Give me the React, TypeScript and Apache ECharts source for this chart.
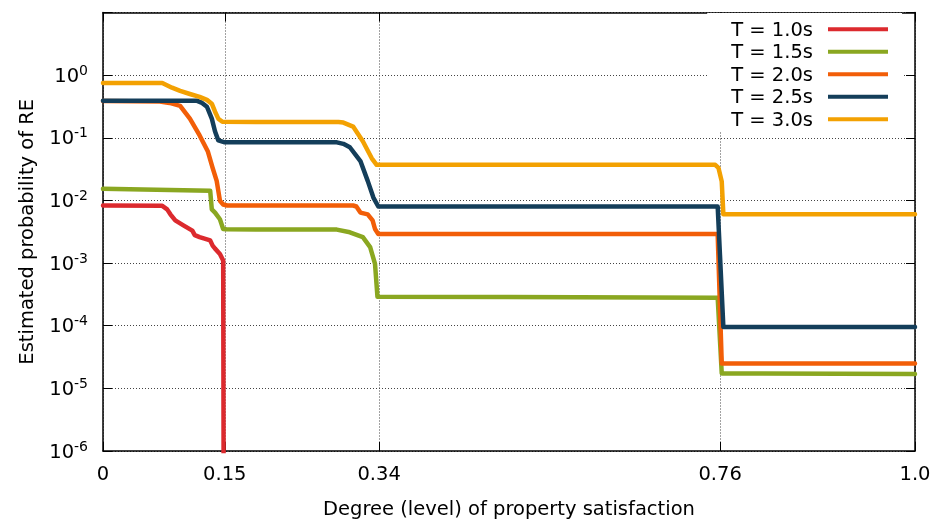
import React, { useEffect, useRef } from "react";
import * as echarts from "echarts";

const xTicks = [0, 0.15, 0.34, 0.76, 1.0];
const xTickLabels = ["0", "0.15", "0.34", "0.76", "1.0"];
const seriesNames = ["T = 1.0s", "T = 1.5s", "T = 2.0s", "T = 2.5s", "T = 3.0s"];
const seriesColors = ["#dc2a2e", "#8aa721", "#f25e08", "#143e5a", "#f3a102"];

const t10: [number, number][] = [
  [0, 0.0083], [0.073, 0.0082], [0.079, 0.0072], [0.083, 0.006], [0.089, 0.0048],
  [0.099, 0.004], [0.11, 0.0033], [0.113, 0.0028], [0.119, 0.0026], [0.132, 0.0023],
  [0.135, 0.0019], [0.138, 0.0017], [0.144, 0.0014], [0.148, 0.0011], [0.149, 1e-9],
];
const t15: [number, number][] = [
  [0, 0.0153], [0.132, 0.0143], [0.134, 0.0072], [0.138, 0.0064], [0.144, 0.005],
  [0.148, 0.0035], [0.152, 0.00346], [0.288, 0.00342], [0.304, 0.0031], [0.32, 0.0026],
  [0.329, 0.0018], [0.335, 0.00097], [0.338, 0.00029], [0.757, 0.00028], [0.762, 1.73e-5],
  [1.0, 1.7e-5],
];
const t20: [number, number][] = [
  [0, 0.385], [0.07, 0.38], [0.082, 0.36], [0.095, 0.324], [0.107, 0.202], [0.119, 0.109],
  [0.129, 0.061], [0.135, 0.033], [0.14, 0.0205], [0.144, 0.0099], [0.148, 0.0086],
  [0.153, 0.0083], [0.308, 0.0083], [0.312, 0.008], [0.317, 0.0064], [0.326, 0.006],
  [0.332, 0.0048], [0.335, 0.0035], [0.339, 0.0029], [0.757, 0.0029], [0.762, 2.5e-5],
  [1.0, 2.5e-5],
];
const t25: [number, number][] = [
  [0, 0.389], [0.116, 0.389], [0.122, 0.36], [0.128, 0.313], [0.134, 0.202],
  [0.138, 0.126], [0.142, 0.091], [0.15, 0.0846], [0.288, 0.0846], [0.296, 0.08],
  [0.304, 0.0706], [0.317, 0.0425], [0.326, 0.0205], [0.333, 0.0111], [0.339, 0.008],
  [0.757, 0.008], [0.764, 9.5e-5], [1.0, 9.5e-5],
];
const t30: [number, number][] = [
  [0, 0.75], [0.073, 0.75], [0.085, 0.63], [0.095, 0.56], [0.107, 0.5],
  [0.119, 0.45], [0.128, 0.403], [0.134, 0.35], [0.138, 0.261], [0.142, 0.202],
  [0.147, 0.18], [0.29, 0.178], [0.296, 0.175], [0.308, 0.151], [0.32, 0.088],
  [0.331, 0.047], [0.337, 0.037], [0.754, 0.037], [0.758, 0.033], [0.762, 0.02],
  [0.764, 0.006], [1.0, 0.006],
];
const seriesData = [t10, t15, t20, t25, t30];

const FONT = "DejaVu Sans";

export default function App() {
  const ref = useRef<HTMLDivElement>(null);
  useEffect(() => {
    if (!ref.current) return;
    const chart = echarts.init(ref.current, null, { renderer: "svg" });
    const tickStyle = { show: true, inside: true, length: 9, lineStyle: { color: "#000", width: 1 } };
    const axisLine = { show: true, onZero: false, lineStyle: { color: "#000", width: 1.5 } };
    const grid = { show: true, type: [1, 2], color: "#444", width: 1 };
    chart.setOption({
      animation: false,
      textStyle: { fontFamily: FONT },
      grid: { left: 103, right: 20, top: 12.5, bottom: 67, containLabel: false },
      legend: {
        orient: "vertical",
        right: 33,
        top: 13,
        align: "right",
        icon: "rect",
        itemWidth: 60,
        itemHeight: 4,
        itemGap: 0,
        backgroundColor: "#fff",
        padding: [5, 14, 1, 24],
        textStyle: { fontFamily: FONT, fontSize: 19.5, color: "#000", lineHeight: 22.5, padding: [0, 10, 0, 0] },
        data: seriesNames,
      },
      xAxis: [
        {
          type: "value",
          min: 0,
          max: 1,
          position: "bottom",
          axisLine,
          axisTick: { ...tickStyle, customValues: xTicks },
          axisLabel: {
            customValues: xTicks,
            fontSize: 19.5,
            color: "#000",
            margin: 12,
            formatter: (v: number) => {
              const i = xTicks.findIndex((t) => Math.abs(t - v) < 1e-9);
              return i >= 0 ? xTickLabels[i] : "";
            },
          },
          splitLine: { show: true, lineStyle: grid },
          name: "Degree (level) of property satisfaction",
          nameLocation: "middle",
          nameGap: 47,
          nameTextStyle: { fontSize: 19.5, color: "#000", fontFamily: FONT },
        },
        {
          type: "value",
          min: 0,
          max: 1,
          position: "top",
          axisLine,
          axisTick: { ...tickStyle, customValues: xTicks },
          axisLabel: { show: false },
          splitLine: { show: false },
        },
      ],
      yAxis: [
        {
          type: "log",
          logBase: 10,
          min: 1e-6,
          max: 10,
          position: "left",
          axisLine,
          axisTick: tickStyle,
          axisLabel: {
            margin: 15,
            color: "#000",
            formatter: (v: number) => {
              const e = Math.round(Math.log10(v));
              if (e > 0) return "";
              return `{b|10}{s|${e}}`;
            },
            rich: {
              b: { fontSize: 19.5, fontFamily: FONT, color: "#000" },
              s: { fontSize: 14, fontFamily: FONT, color: "#000", padding: [0, 0, 11, 0] },
            },
          },
          splitLine: { show: true, lineStyle: grid },
          name: "Estimated probability of RE",
          nameLocation: "middle",
          nameGap: 67,
          nameTextStyle: { fontSize: 19.5, color: "#000", fontFamily: FONT },
        },
        {
          type: "log",
          logBase: 10,
          min: 1e-6,
          max: 10,
          position: "right",
          axisLine,
          axisTick: tickStyle,
          axisLabel: { show: false },
          splitLine: { show: false },
        },
      ],
      series: seriesNames.map((name, i) => ({
        name,
        type: "line",
        data: seriesData[i],
        xAxisIndex: 0,
        yAxisIndex: 0,
        showSymbol: false,
        symbol: "none",
        clip: true,
        color: seriesColors[i],
        itemStyle: { color: seriesColors[i] },
        lineStyle: { width: 4.5, color: seriesColors[i], join: "round", cap: "round" },
      })),
    });
    return () => chart.dispose();
  }, []);
  return <div ref={ref} style={{ position: "fixed", left: 0, top: 0, width: 935, height: 523 }} />;
}
